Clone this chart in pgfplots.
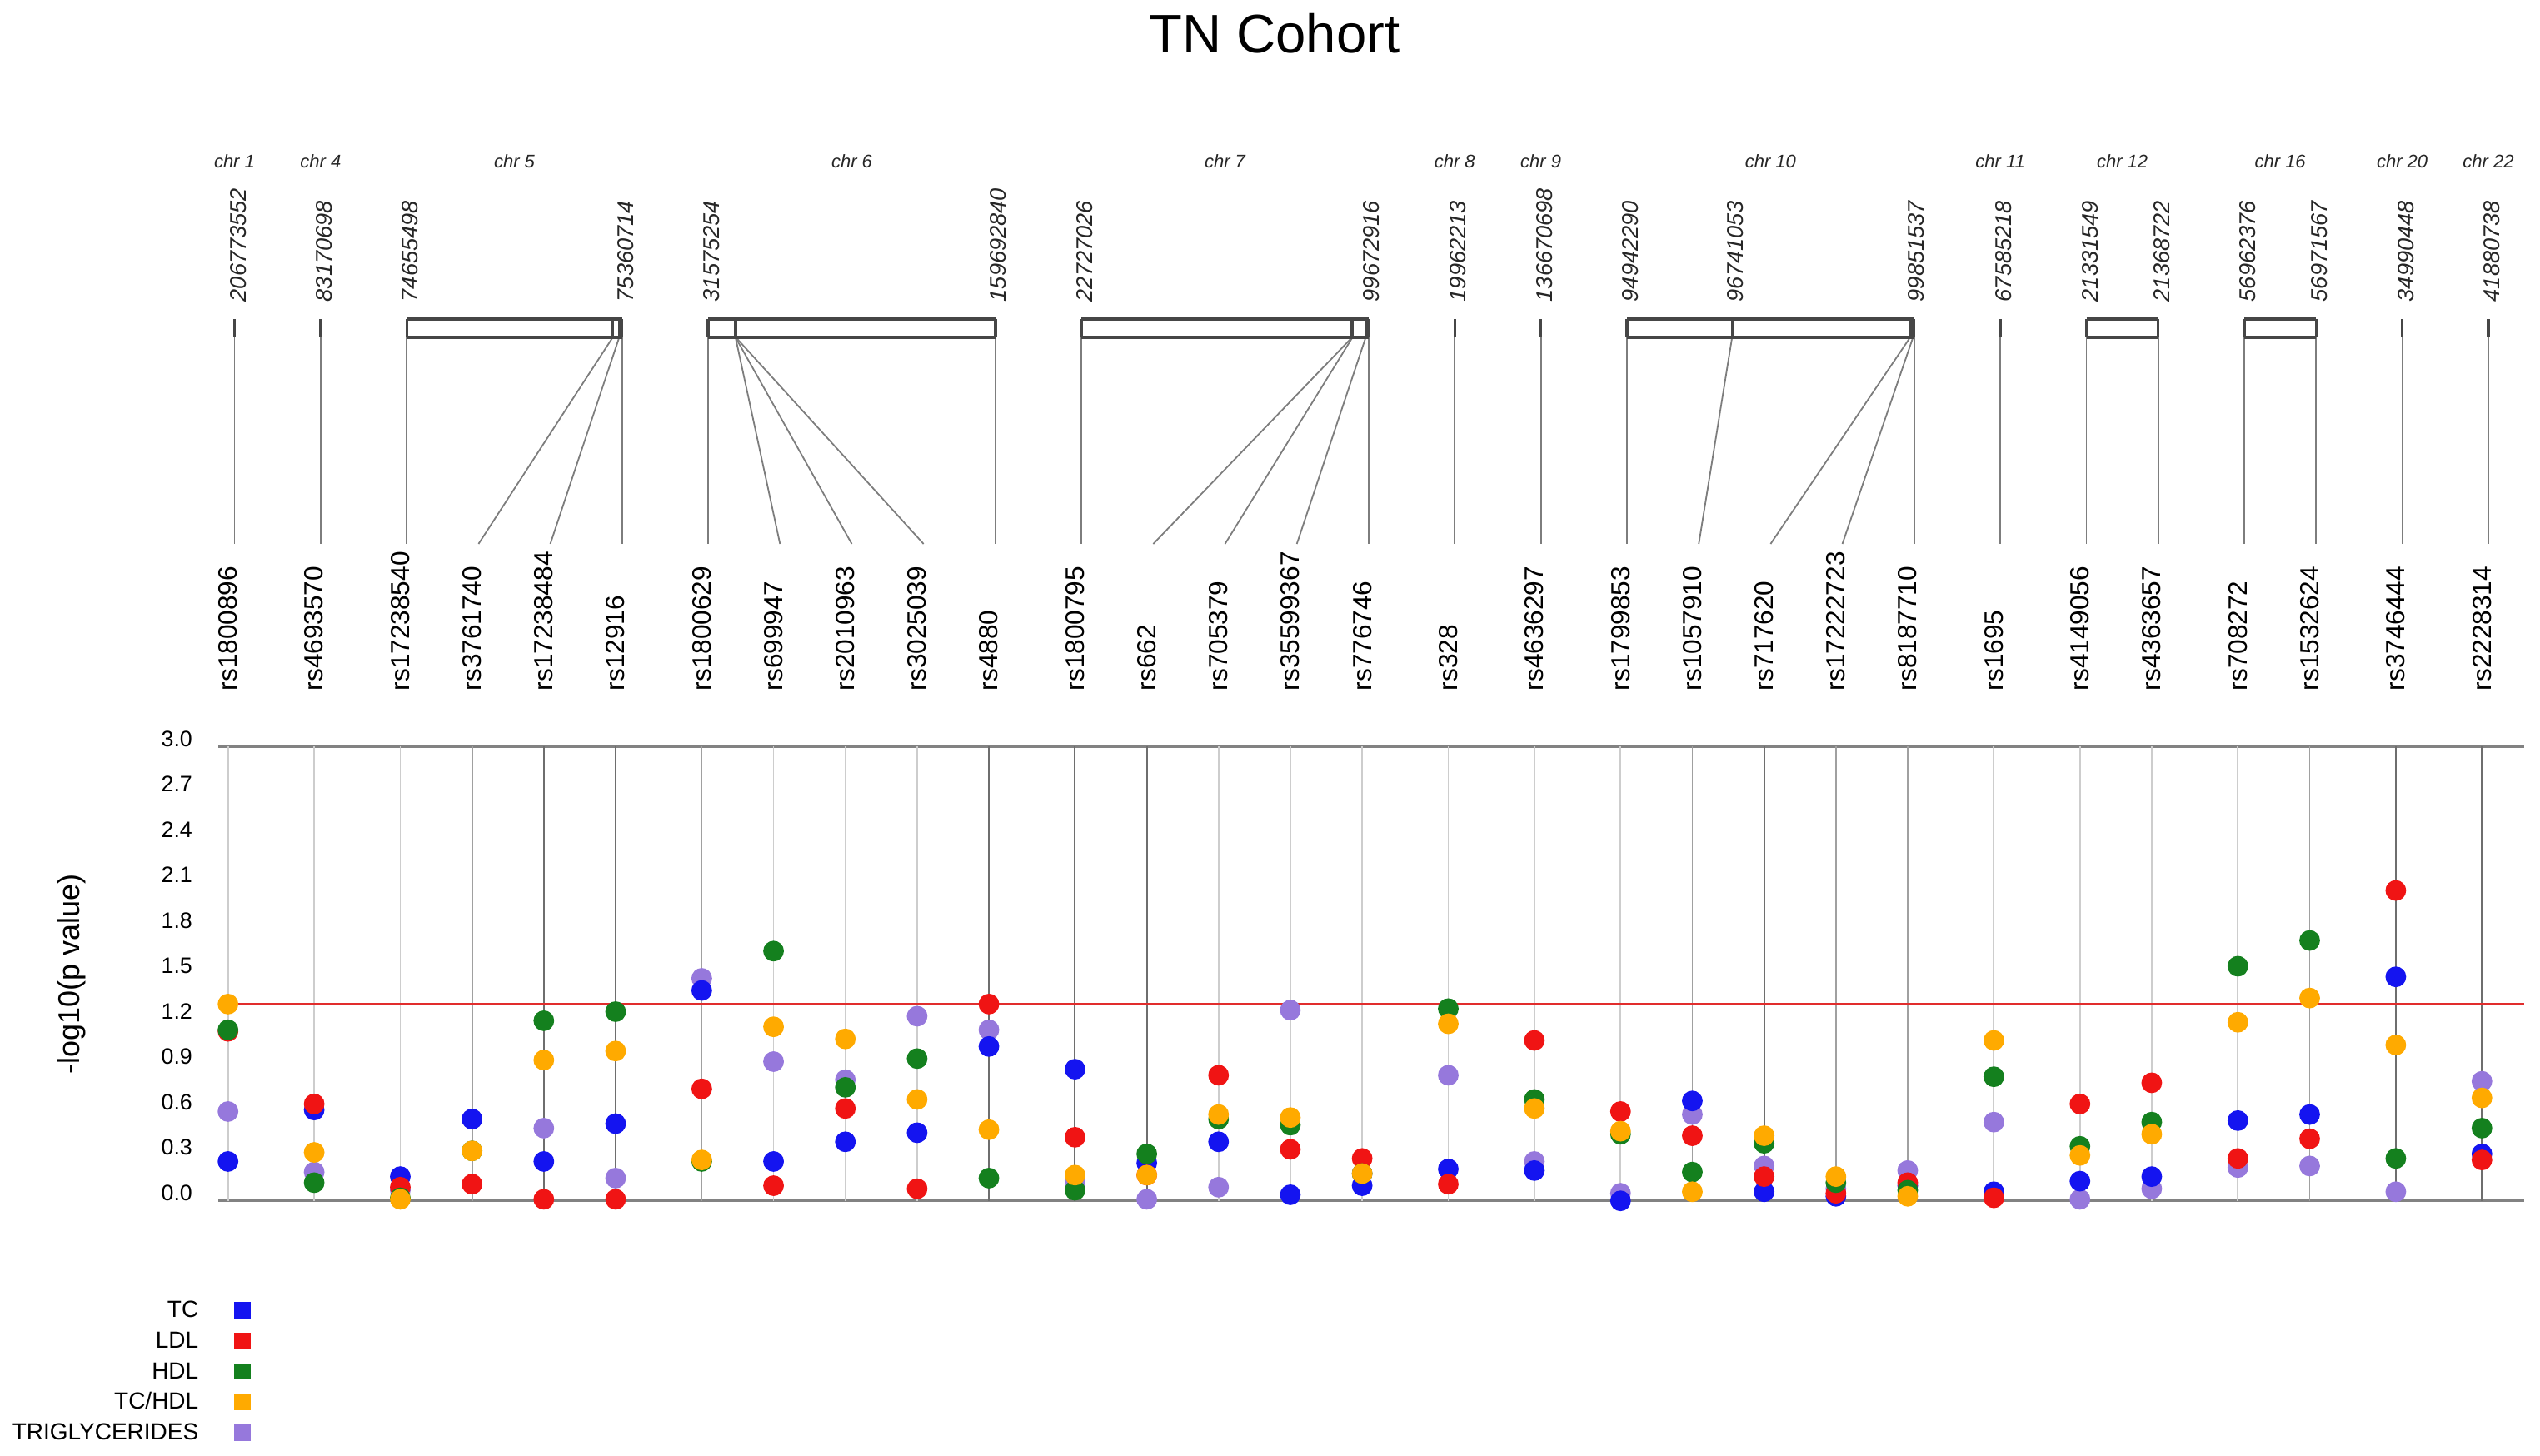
\documentclass[border=0pt]{standalone}
\usepackage{fontspec}
\setmainfont{Liberation Sans}
\usepackage{pgfplots}
\pgfplotsset{compat=1.18}
\usepackage{pgfplotstable}

\newcommand\fs[2]{\fontsize{#1}{#2}\selectfont}

\definecolor{cTC}{RGB}{20,20,240}
\definecolor{cLDL}{RGB}{240,20,20}
\definecolor{cHDL}{RGB}{20,128,30}
\definecolor{cTCHDL}{RGB}{255,170,0}
\definecolor{cTG}{RGB}{150,120,220}
\definecolor{gridlight}{RGB}{205,205,205}
\definecolor{gridmid}{RGB}{160,160,160}
\definecolor{griddark}{RGB}{110,110,110}
\definecolor{axisgray}{RGB}{130,130,130}
\definecolor{mapdark}{RGB}{70,70,70}
\definecolor{maplink}{RGB}{125,125,125}
\definecolor{sigred}{RGB}{225,45,45}

% -log10(p) per SNP, x = column position of the SNP
\pgfplotstableread{
x TC LDL HDL TCHDL TG
0.0 0.26 1.12 1.13 1.30 0.59
1.2 0.60 0.64 0.12 0.32 0.19
2.4 0.16 0.09 0.02 0.01 0.07
3.4 0.54 0.11 0.33 0.33 0.54
4.4 0.26 0.01 1.19 0.93 0.48
5.4 0.51 0.01 1.25 0.99 0.15
6.6 1.39 0.74 0.26 0.27 1.47
7.6 0.26 0.10 1.65 1.15 0.92
8.6 0.39 0.61 0.75 1.07 0.80
9.6 0.45 0.08 0.94 0.67 1.22
10.6 1.02 1.30 0.15 0.47 1.13
11.8 0.87 0.42 0.07 0.17 0.12
12.8 0.25 0.17 0.31 0.17 0.01
13.8 0.39 0.83 0.54 0.57 0.09
14.8 0.04 0.34 0.50 0.55 1.26
15.8 0.10 0.28 0.18 0.18 0.18
17.0 0.21 0.11 1.27 1.17 0.83
18.2 0.20 1.06 0.67 0.61 0.26
19.4 0.00 0.59 0.44 0.46 0.05
20.4 0.66 0.43 0.19 0.06 0.57
21.4 0.06 0.16 0.38 0.43 0.23
22.4 0.03 0.05 0.12 0.16 0.08
23.4 0.10 0.12 0.07 0.03 0.20
24.6 0.06 0.02 0.82 1.06 0.52
25.8 0.13 0.64 0.36 0.30 0.01
26.8 0.16 0.78 0.52 0.44 0.08
28.0 0.53 0.28 1.55 1.18 0.22
29.0 0.57 0.41 1.72 1.34 0.23
30.2 1.48 2.05 0.28 1.03 0.06
31.4 0.31 0.27 0.48 0.68 0.79
}\lipids

% chromosome map: links from bar position down to SNP label (x y u v)
\pgfplotstableread{
x y u v
0.09 405 0 248
1.29 405 0 248
2.49 405 0 248
5.36 405 -1.87 248
5.45 405 -0.96 248
5.49 405 0 248
6.69 405 0 248
7.07 405 0.62 248
7.07 405 1.62 248
7.075 405 2.615 248
10.69 405 0 248
11.89 405 0 248
15.66 405 -2.77 248
15.665 405 -1.775 248
15.85 405 -0.96 248
15.89 405 0 248
17.09 405 0 248
18.29 405 0 248
19.49 405 0 248
20.954 405 -0.464 248
23.434 405 -1.944 248
23.474 405 -0.984 248
23.49 405 0 248
24.69 405 0 248
25.89 405 0 248
26.89 405 0 248
28.09 405 0 248
29.09 405 0 248
30.29 405 0 248
31.49 405 0 248
}\links

% chromosome bars and position ticks
\pgfplotstableread{
x y u v
2.49 383 3 0
2.49 405 3 0
6.69 383 4 0
6.69 405 4 0
11.89 383 4 0
11.89 405 4 0
19.49 383 4 0
19.49 405 4 0
25.89 383 1 0
25.89 405 1 0
28.09 383 1 0
28.09 405 1 0
0.09 383 0 22
1.29 383 0 22
2.49 383 0 22
5.36 383 0 22
5.45 383 0 22
5.49 383 0 22
6.69 383 0 22
7.07 383 0 22
7.075 383 0 22
10.69 383 0 22
11.89 383 0 22
15.66 383 0 22
15.85 383 0 22
15.89 383 0 22
17.09 383 0 22
18.29 383 0 22
19.49 383 0 22
20.954 383 0 22
23.434 383 0 22
23.474 383 0 22
23.49 383 0 22
24.69 383 0 22
25.89 383 0 22
26.89 383 0 22
28.09 383 0 22
29.09 383 0 22
30.29 383 0 22
31.49 383 0 22
}\bars

\pgfplotstableread[col sep=comma]{
x,y,label
0.0,830,rs1800896
1.2,830,rs4693570
2.4,830,rs17238540
3.4,830,rs3761740
4.4,830,rs17238484
5.4,830,rs12916
6.6,830,rs1800629
7.6,830,rs699947
8.6,830,rs2010963
9.6,830,rs3025039
10.6,830,rs4880
11.8,830,rs1800795
12.8,830,rs662
13.8,830,rs705379
14.8,830,rs35599367
15.8,830,rs776746
17.0,830,rs328
18.2,830,rs4636297
19.4,830,rs1799853
20.4,830,rs1057910
21.4,830,rs717620
22.4,830,rs17222723
23.4,830,rs8187710
24.6,830,rs1695
25.8,830,rs4149056
26.8,830,rs4363657
28.0,830,rs708272
29.0,830,rs1532624
30.2,830,rs3746444
31.4,830,rs2228314
}\snps

\pgfplotstableread[col sep=comma]{
x,y,label
0.14,363,206773552
1.34,363,83170698
2.54,363,74655498
5.54,363,75360714
6.74,363,31575254
10.73,363,159692840
11.94,363,22727026
15.93,363,99672916
17.14,363,19962213
18.34,363,136670698
19.54,363,94942290
21.0,363,96741053
23.52,363,99851537
24.74,363,67585218
25.94,363,21331549
26.94,363,21368722
28.14,363,56962376
29.14,363,56971567
30.34,363,34990448
31.54,363,41880738
}\positions

\pgfplotstableread[col sep=comma]{
x,y,label
0.09,201.7,chr 1
1.29,201.7,chr 4
3.99,201.7,chr 5
8.69,201.7,chr 6
13.89,201.7,chr 7
17.09,201.7,chr 8
18.29,201.7,chr 9
21.49,201.7,chr 10
24.69,201.7,chr 11
26.39,201.7,chr 12
28.59,201.7,chr 16
30.29,201.7,chr 20
31.49,201.7,chr 22
}\chrs

\pgfplotsset{
  sq/.style={legend image code/.code={\fill[#1] (0pt,-2.25pt) rectangle (4.5pt,2.25pt);}},
  dot/.style={only marks, mark=*, mark size=2.9pt, color=#1, sq=#1},
}

\begin{document}
\begin{tikzpicture}
\useasboundingbox (-65.625pt,-76.325pt) rectangle (696.625pt,360.425pt);

\begin{axis}[
    at={(0,0)}, anchor=south west,
    scale only axis,
    width=691.9pt, height=136.325pt,
    xmin=-0.13, xmax=31.99, ymin=0, ymax=3,
    clip=false,
    separate axis lines,
    x axis line style={axisgray, line width=0.65pt},
    y axis line style={draw=none},
    xtick=\empty,
    ytick={0,0.3,0.6,0.9,1.2,1.5,1.8,2.1,2.4,2.7,3.0},
    major tick length=0pt,
    /pgf/number format/fixed,
    /pgf/number format/fixed zerofill,
    /pgf/number format/precision=1,
    /pgf/number format/assume math mode=true,
    yticklabel style={font=\fs{6.7}{8}, inner sep=0pt, anchor=east, xshift=-7.7pt, yshift=2.4pt},
    ylabel={-log10(p value)},
    every axis y label/.style={at={(axis description cs:-0.0638,0.5)}, rotate=90, anchor=center, font=\fs{9}{11}},
    legend style={draw=none, fill=none, inner sep=0pt,
      at={(0.01416,-0.2168)}, anchor=north east,
      row sep=3.2pt, column sep=10.75pt, font=\fs{7}{8},
      nodes={inner sep=0pt, text height=5.2pt, text depth=0.8pt}},
    legend cell align=right,
    legend plot pos=right,
  ]
  % SNP guide lines
  \addplot[ycomb, gridlight, line width=0.45pt, forget plot] coordinates {
    (0,3) (1.2,3) (2.4,3) (7.6,3) (8.6,3) (9.6,3) (13.8,3) (14.8,3) (15.8,3)
    (17.0,3) (18.2,3) (19.4,3) (24.6,3) (25.8,3) (26.8,3) (28.0,3)};
  \addplot[ycomb, gridmid, line width=0.45pt, forget plot] coordinates {
    (3.4,3) (6.6,3) (20.4,3) (22.4,3) (23.4,3) (29.0,3)};
  \addplot[ycomb, griddark, line width=0.5pt, forget plot] coordinates {
    (4.4,3) (5.4,3) (10.6,3) (11.8,3) (12.8,3) (21.4,3) (30.2,3) (31.4,3)};
  % p = 0.05
  \addplot[sigred, line width=0.7pt, forget plot] coordinates {(-0.13,1.301) (31.99,1.301)};

  \addplot[dot=cTG, forget plot] table[x=x, y=TG] {\lipids};
  \addplot[dot=cTC] table[x=x, y=TC] {\lipids};
  \addlegendentry{TC}
  \addplot[dot=cLDL] table[x=x, y=LDL] {\lipids};
  \addlegendentry{LDL}
  \addplot[dot=cHDL] table[x=x, y=HDL] {\lipids};
  \addlegendentry{HDL}
  \addplot[dot=cTCHDL] table[x=x, y=TCHDL] {\lipids};
  \addlegendentry{TC/HDL}
  \addlegendimage{sq=cTG}
  \addlegendentry{TRIGLYCERIDES}
\end{axis}

% chromosome map above the plot, y in pixels from the top
\begin{axis}[
    at={(0,136.325pt)}, anchor=south west,
    scale only axis,
    width=691.9pt, height=224.1pt,
    xmin=-0.13, xmax=31.99, ymin=0, ymax=896.4,
    y dir=reverse,
    axis lines=none, xtick=\empty, ytick=\empty,
    clip=false,
  ]
  \addplot[quiver={u=\thisrow{u}, v=\thisrow{v}}, maplink, line width=0.45pt]
    table[x=x, y=y] {\links};
  \addplot[quiver={u=\thisrow{u}, v=\thisrow{v}}, mapdark, line width=0.85pt]
    table[x=x, y=y] {\bars};

  \addplot[draw=none, point meta=explicit symbolic, nodes near coords,
    nodes near coords style={anchor=west, rotate=90, inner sep=0pt, font=\fs{7.9}{9}, text=black}]
    table[x=x, y=y, meta=label] {\snps};
  \addplot[draw=none, point meta=explicit symbolic, nodes near coords,
    nodes near coords style={anchor=west, rotate=90, inner sep=0pt, font=\fs{6.8}{8}\itshape, text=black!85}]
    table[x=x, y=y, meta=label] {\positions};
  \addplot[draw=none, point meta=explicit symbolic, nodes near coords,
    nodes near coords style={anchor=base, inner sep=0pt, font=\fs{5.5}{7}\itshape, text=black!85}]
    table[x=x, y=y, meta=label] {\chrs};

  \node[anchor=base, inner sep=0pt, font=\fs{16.3}{19}] at (axis cs:14.58,64) {TN Cohort};
\end{axis}
\end{tikzpicture}
\end{document}
